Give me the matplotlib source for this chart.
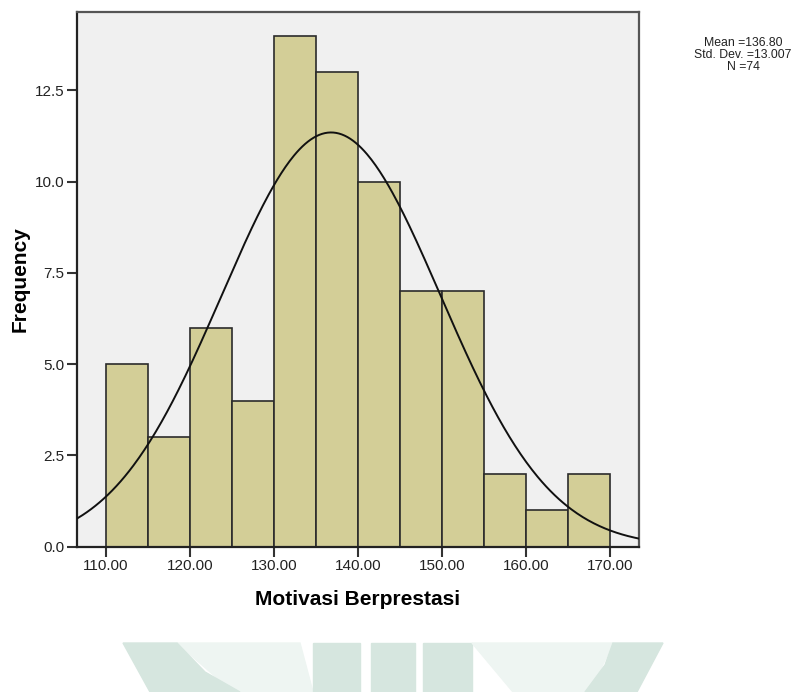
import numpy as np
import matplotlib
matplotlib.use('Agg')
import matplotlib.pyplot as plt
from matplotlib.patches import Polygon

plt.rcParams['font.family'] = ['Liberation Sans', 'DejaVu Sans']

# histogram data (bins of width 5 from 110 to 170)
bin_edges = [110, 115, 120, 125, 130, 135, 140, 145, 150, 155, 160, 165, 170]
counts = [5, 3, 6, 4, 14, 13, 10, 7, 7, 2, 1, 2]
mean = 136.80
sd = 13.007
n = 74

x_ticks = [110, 120, 130, 140, 150, 160, 170]
y_ticks = [0.0, 2.5, 5.0, 7.5, 10.0, 12.5]

fig = plt.figure(figsize=(8.04, 6.92), dpi=100)
ax = fig.add_axes([77 / 804, 1 - 546.5 / 692, 562 / 804, 534.5 / 692])
ax.set_facecolor('#f0f0f0')

lefts = bin_edges[:-1]
widths = np.diff(bin_edges)
ax.bar(lefts, counts, width=widths, align='edge', color='#d3ce97',
       edgecolor='#2b2b2b', linewidth=1.2, zorder=2)

# normal curve scaled to counts
xs = np.linspace(106.6, 173.4, 400)
bw = bin_edges[1] - bin_edges[0]
ys = n * bw / (sd * np.sqrt(2 * np.pi)) * np.exp(-0.5 * ((xs - mean) / sd) ** 2)
ax.plot(xs, ys, color='#111111', linewidth=1.4, zorder=3)

ax.set_xlim(106.6, 173.4)
ax.set_ylim(0, 14.65)
ax.set_xticks(x_ticks)
ax.set_xticklabels(['%.2f' % v for v in x_ticks])
ax.set_yticks(y_ticks)
ax.set_yticklabels(['%.1f' % v for v in y_ticks])
ax.tick_params(length=7, width=1.5, color='#333333', labelsize=11,
               labelcolor='#222222', pad=2)
for s in ax.spines.values():
    s.set_color('#555555')
    s.set_linewidth(1.6)
ax.spines['left'].set_color('#222222')
ax.spines['bottom'].set_color('#222222')

ax.set_xlabel('Motivasi Berprestasi', fontsize=15, fontweight='bold', labelpad=12)
ax.set_ylabel('Frequency', fontsize=15, fontweight='bold', labelpad=4)

fig.text(743 / 804, 1 - 37 / 692, 'Mean =136.80\nStd. Dev. =13.007\nN =74',
         ha='center', va='top', fontsize=8.8, linespacing=1.0, color='#222222')

# faint watermark shapes at the bottom
def px(pts):
    return [(x / 804, 1 - y / 692) for x, y in pts]

light = '#eef5f2'
mid = '#d6e6df'
fig.patches.append(Polygon(px([(177, 643), (300, 643), (313, 692), (233, 692)]),
                           closed=True, color=light, transform=fig.transFigure))
fig.patches.append(Polygon(px([(123, 643), (177, 643), (205, 672), (240, 692), (150, 692)]),
                           closed=True, color=mid, transform=fig.transFigure))
for x0, x1 in [(313, 360), (371, 415), (423, 472)]:
    fig.patches.append(Polygon(px([(x0, 643), (x1, 643), (x1, 692), (x0, 692)]),
                               closed=True, color=mid, transform=fig.transFigure))
fig.patches.append(Polygon(px([(472, 643), (613, 643), (590, 692), (513, 692)]),
                           closed=True, color=light, transform=fig.transFigure))
fig.patches.append(Polygon(px([(613, 643), (663, 643), (637, 692), (585, 692), (605, 665)]),
                           closed=True, color=mid, transform=fig.transFigure))

fig.savefig('out.png', dpi=100)
